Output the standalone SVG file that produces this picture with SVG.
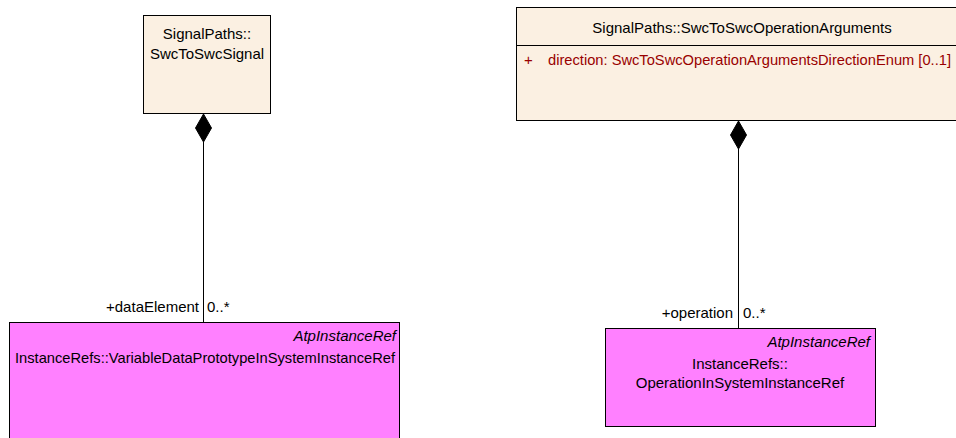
<svg xmlns="http://www.w3.org/2000/svg" width="956" height="438" viewBox="0 0 956 438">
<style>
.cls{fill:#FBF0E2;stroke:#000;stroke-width:1}
.ref{fill:#FF80FF;stroke:#000;stroke-width:1}
text{font-family:"Liberation Sans",Arial,sans-serif;font-size:15px;fill:#000}
.it{font-style:italic}
.attr{fill:#990000}
.edge{stroke:#000;stroke-width:1;fill:none}
.dia{fill:#000;stroke:#000}
</style>
<rect width="956" height="438" fill="#fff"/>
<g id="SwcToSwcSignal">
<rect class="cls" x="143.5" y="15.5" width="127" height="98"/>
<text x="207" y="39" text-anchor="middle">SignalPaths::</text>
<text x="207" y="59" text-anchor="middle">SwcToSwcSignal</text>
</g>
<g id="SwcToSwcOperationArguments">
<rect class="cls" x="516.5" y="7.5" width="452" height="113"/>
<line class="edge" x1="516.5" y1="45.5" x2="968.5" y2="45.5"/>
<text x="742" y="33" text-anchor="middle">SignalPaths::SwcToSwcOperationArguments</text>
<text class="attr" x="524" y="65">+</text>
<text class="attr" x="548" y="65" style="font-size:14.6px" textLength="403" lengthAdjust="spacingAndGlyphs">direction: SwcToSwcOperationArgumentsDirectionEnum [0..1]</text>
</g>
<g id="VariableDataPrototypeInSystemInstanceRef">
<rect class="ref" x="9.5" y="322.5" width="390" height="130"/>
<text class="it" x="396" y="341" text-anchor="end">AtpInstanceRef</text>
<text x="15" y="363" textLength="380" lengthAdjust="spacingAndGlyphs">InstanceRefs::VariableDataPrototypeInSystemInstanceRef</text>
</g>
<g id="OperationInSystemInstanceRef">
<rect class="ref" x="605.5" y="328.5" width="270" height="98"/>
<text class="it" x="870" y="347" text-anchor="end">AtpInstanceRef</text>
<text x="740" y="369" text-anchor="middle">InstanceRefs::</text>
<text x="740" y="388" text-anchor="middle">OperationInSystemInstanceRef</text>
</g>
<g id="connectors">
<line class="edge" x1="203.5" y1="142" x2="203.5" y2="322.5"/>
<polygon class="dia" points="203.5,114 211.5,128 203.5,142 195.5,128"/>
<text x="199" y="312" text-anchor="end">+dataElement</text>
<text x="207" y="312">0..*</text>
<line class="edge" x1="738.5" y1="149" x2="738.5" y2="328.5"/>
<polygon class="dia" points="738.5,121 746.5,135 738.5,149 730.5,135"/>
<text x="733" y="318" text-anchor="end">+operation</text>
<text x="743" y="318">0..*</text>
</g>
</svg>
